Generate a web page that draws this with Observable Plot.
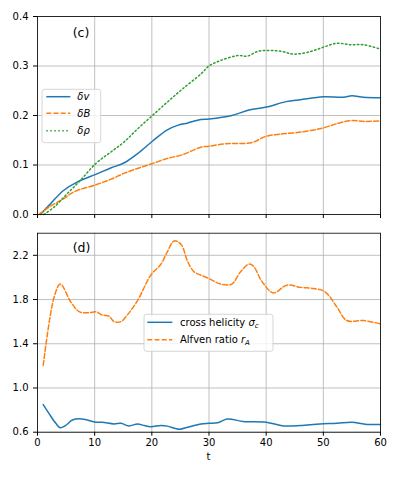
<!DOCTYPE html>
<html><head><meta charset="utf-8">
<script src="https://cdn.jsdelivr.net/npm/d3@7"></script>
<script src="https://cdn.jsdelivr.net/npm/@observablehq/plot@0.6"></script>
<style>
body{margin:0;background:#fff;font-family:"DejaVu Sans",sans-serif;}
#c{position:relative;width:399px;height:478px;}
svg{display:block;}
</style></head><body><div id="c"></div>
<script>
// ---- data ----
const tV   = [0.5,2.3,4.6,7,10.2,12.8,15.1,17.5,20.1,22.7,24.5,26.3,28.6,30,34,37,40,43.5,46,50,53.5,55,57,60];
const dV   = [0,0.022,0.049,0.066,0.081,0.094,0.104,0.123,0.148,0.171,0.180,0.185,0.192,0.193,0.2,0.211,0.217,0.228,0.232,0.238,0.237,0.240,0.237,0.236];
const tB   = [0.2,2.3,4.6,6.4,10.2,12.8,15.1,17.5,20.1,22.7,25.4,28.6,30,33,37.4,40,42.3,46.4,50,52.8,55,57.3,60];
const dB   = [0,0.017,0.032,0.046,0.060,0.071,0.083,0.093,0.103,0.113,0.121,0.136,0.138,0.143,0.145,0.158,0.162,0.167,0.175,0.185,0.190,0.188,0.189];
const tR   = [1.1,2.9,5.2,7.5,10.2,12.8,15.1,17.5,20.1,22.7,25.4,28.6,30,32,35,36.7,38.7,42.5,44.8,47.7,50,52.4,54.7,57,60];
const dR   = [0,0.015,0.042,0.069,0.103,0.126,0.146,0.173,0.2,0.227,0.254,0.284,0.300,0.311,0.321,0.320,0.330,0.330,0.324,0.329,0.338,0.346,0.343,0.343,0.334];
const tA   = [1,2.9,4,5.8,7.3,9,10.2,11.3,12.5,13.4,14.6,15.7,17.5,19.8,21.6,22.7,23.9,25.1,26.3,27.4,28.6,30,32,34,35.5,37,37.8,39.3,41.3,43.6,46,48.3,50.3,52.4,54.1,57,60];
const rA   = [1.204,1.82,1.94,1.78,1.69,1.68,1.69,1.66,1.65,1.6,1.6,1.66,1.79,2.02,2.12,2.23,2.33,2.30,2.14,2.05,2.02,1.99,1.94,1.94,2.05,2.12,2.10,1.96,1.86,1.93,1.91,1.90,1.87,1.73,1.61,1.61,1.58];
const tS   = [1,2,3.2,4,4.9,6.1,7.8,10.2,11.3,13.4,14.6,16,17.5,18.7,19.8,21.6,22.7,24.8,26.3,28.6,30,31.5,33.2,36,40,43,46,49.4,52.4,55,57.3,60];
const sC   = [0.85,0.77,0.68,0.64,0.66,0.71,0.72,0.69,0.69,0.675,0.68,0.657,0.675,0.66,0.65,0.66,0.655,0.627,0.645,0.675,0.68,0.685,0.72,0.697,0.69,0.657,0.66,0.675,0.68,0.69,0.673,0.67];
const xTicks = [0,10,20,30,40,50,60];
const yTicksTop = [0,0.1,0.2,0.3,0.4];
const yTicksBot = [0.6,1.0,1.4,1.8,2.2];

const C1="#1f77b4", C2="#ff7f0e", C3="#2ca02c", GRID="#b0b0b0";
const zip=(xs,ys)=>xs.map((x,i)=>({x,y:ys[i]}));
const font='"DejaVu Sans",sans-serif';

const common = {width:399, marginLeft:37, marginRight:19,
  style:{fontFamily:font,fontSize:"10px",color:"black",background:"white",overflow:"visible"},
  x:{domain:[0,60]}};

const topPlot = Plot.plot({...common, height:222, marginTop:16, marginBottom:8,
  y:{domain:[0,0.4]},
  marks:[
    Plot.gridX(xTicks,{stroke:GRID,strokeOpacity:1,strokeWidth:0.8}),
    Plot.gridY(yTicksTop,{stroke:GRID,strokeOpacity:1,strokeWidth:0.8}),
    Plot.axisX({ticks:xTicks,tickFormat:()=>"",tickSize:4,label:null}),
    Plot.axisY({ticks:yTicksTop,tickFormat:d3.format(".1f"),tickSize:4,tickPadding:5,label:null,fontSize:10}),
    Plot.line(zip(tV,dV),{x:"x",y:"y",stroke:C1,strokeWidth:1.5,curve:"catmull-rom"}),
    Plot.line(zip(tB,dB),{x:"x",y:"y",stroke:C2,strokeWidth:1.5,strokeDasharray:"5,2.2",curve:"catmull-rom"}),
    Plot.line(zip(tR,dR),{x:"x",y:"y",stroke:C3,strokeWidth:1.5,strokeDasharray:"1.5,2.5",curve:"catmull-rom"}),
    Plot.frame({stroke:"black",strokeWidth:0.8})
  ]});

const botPlot = Plot.plot({...common, height:256, marginTop:10.7, marginBottom:46.3,
  y:{domain:[0.6,2.4]},
  marks:[
    Plot.gridX(xTicks,{stroke:GRID,strokeOpacity:1,strokeWidth:0.8}),
    Plot.gridY(yTicksBot,{stroke:GRID,strokeOpacity:1,strokeWidth:0.8}),
    Plot.axisX({ticks:xTicks,tickFormat:d3.format("d"),tickSize:4,tickPadding:3,label:null,fontSize:10}),
    Plot.axisY({ticks:yTicksBot,tickFormat:d3.format(".1f"),tickSize:4,tickPadding:5,label:null,fontSize:10}),
    Plot.line(zip(tS,sC),{x:"x",y:"y",stroke:C1,strokeWidth:1.5,curve:"catmull-rom"}),
    Plot.line(zip(tA,rA),{x:"x",y:"y",stroke:C2,strokeWidth:1.5,strokeDasharray:"5,2.2",curve:"catmull-rom"}),
    Plot.frame({stroke:"black",strokeWidth:0.8})
  ]});

const c=document.getElementById("c");
c.appendChild(topPlot); c.appendChild(botPlot);

function legend(svg, box, items, lx0, lx1, tx){
  const s=d3.select(svg).append("g").attr("text-anchor","start");
  s.append("rect").attr("x",box[0]).attr("y",box[1]).attr("width",box[2]).attr("height",box[3])
   .attr("rx",2.5).attr("fill","white").attr("fill-opacity",0.8).attr("stroke","#cccccc").attr("stroke-width",0.8);
  items.forEach(it=>{
    s.append("line").attr("x1",lx0).attr("x2",lx1).attr("y1",it.y).attr("y2",it.y)
     .attr("stroke",it.c).attr("stroke-width",1.5).attr("stroke-dasharray",it.d||null);
    const t=s.append("text").attr("x",tx).attr("y",it.y).attr("dy","0.35em").attr("text-anchor","start")
      .attr("font-family",font).attr("font-size",10).attr("fill","black");
    it.parts.forEach(p=>{
      const ts=t.append("tspan").text(p.t);
      if(p.i) ts.attr("font-style","italic");
      if(p.sub) ts.attr("font-size",7).attr("dy","0.25em");
    });
  });
}
legend(topPlot,[42,89.3,58.7,53.4],[
  {y:96.7,c:C1,parts:[{t:"δv",i:1}]},
  {y:113.3,c:C2,d:"5,2.2",parts:[{t:"δB",i:1}]},
  {y:130.7,c:C3,d:"1.5,2.5",parts:[{t:"δρ",i:1}]}
],46.3,70.3,77.3);

legend(botPlot,[144,314.3-222,129,37],[
  {y:322.3-222,c:C1,parts:[{t:"cross helicity "},{t:"σ",i:1},{t:"c",i:1,sub:1}]},
  {y:339.7-222,c:C2,d:"5,2.2",parts:[{t:"Alfven ratio "},{t:"r",i:1},{t:"A",i:1,sub:1}]}
],147.3,172.3,180);

d3.select(topPlot).append("text").attr("x",72.7).attr("y",33).attr("dy","0.35em").attr("text-anchor","start")
  .attr("font-family",font).attr("font-size",12.5).text("(c)");
d3.select(botPlot).append("text").attr("x",72.7).attr("y",248-222).attr("dy","0.35em").attr("text-anchor","start")
  .attr("font-family",font).attr("font-size",12.5).text("(d)");
d3.select(botPlot).append("text").attr("x",208.5).attr("y",456-222).attr("dy","0.35em")
  .attr("text-anchor","middle").attr("font-family",font).attr("font-size",10).text("t");
</script></body></html>
